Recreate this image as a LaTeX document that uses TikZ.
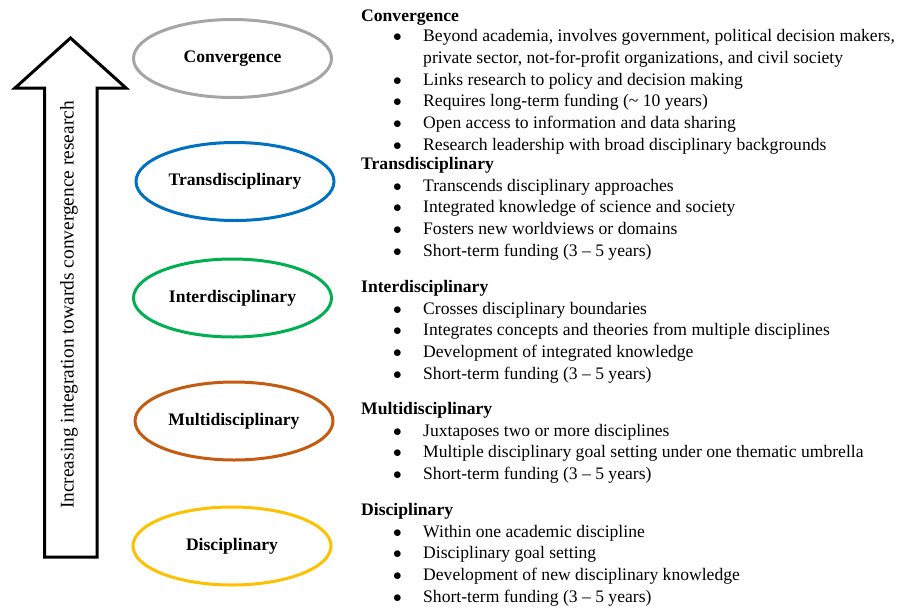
\documentclass[tikz,border=0pt]{standalone}
\usepackage{fontspec}
\setmainfont{Liberation Serif}
\usetikzlibrary{shapes.geometric}
\definecolor{cgray}{HTML}{A5A5A5}
\definecolor{cblue}{HTML}{0070C0}
\definecolor{cgreen}{HTML}{00B050}
\definecolor{corange}{HTML}{C55A11}
\definecolor{cgold}{HTML}{FFC000}
\newcommand{\bl}{$\bullet$ &}
\tikzset{
  level/.style={draw=#1, ellipse, line width=3pt, minimum width=198pt,
    minimum height=78pt, inner sep=0pt, font=\fontsize{17.6}{20}\selectfont\bfseries},
  block/.style={anchor=base west, inner sep=0pt, align=left,
    font=\fontsize{17.6}{21.7}\selectfont}
}
\begin{document}
\begin{tikzpicture}[x=1pt,y=-1pt]
\useasboundingbox (0,0) rectangle (911,606);
% arrow
\draw[line width=3pt, miter limit=10] (70.5,38) -- (126,88) -- (97,88) -- (97,557)
  -- (44.5,557) -- (44.5,88) -- (15,88) -- cycle;
\node[rotate=90, font=\fontsize{19.4}{22}\selectfont] (lbl) at (69,305)
  {Increasing integration towards convergence research};
% levels
\node[level=cgray]   (conv)  at (232.5,58.5) {Convergence};
\node[level=cblue]   (trans) at (235,181.5)  {Transdisciplinary};
\node[level=cgreen]  (inter) at (232.5,298)  {Interdisciplinary};
\node[level=corange] (multi) at (234,421)    {Multidisciplinary};
\node[level=cgold]   (disc)  at (232,546)    {Disciplinary};
% descriptions
\node[block] (tconv) at (361,21) {\begin{tabular}[t]{@{\hspace{32pt}}p{30pt}@{}l@{}}
\multicolumn{2}{@{}l@{}}{\textbf{Convergence}}\\[-1pt]
\bl Beyond academia, involves government, political decision makers,\\
 & private sector, not-for-profit organizations, and civil society\\
\bl Links research to policy and decision making\\
\bl Requires long-term funding (\textasciitilde\ 10 years)\\
\bl Open access to information and data sharing\\
\bl Research leadership with broad disciplinary backgrounds
\end{tabular}};
\node[block] (ttrans) at (361,169.5) {\begin{tabular}[t]{@{\hspace{32pt}}p{30pt}@{}l@{}}
\multicolumn{2}{@{}l@{}}{\textbf{Transdisciplinary}}\\
\bl Transcends disciplinary approaches\\
\bl Integrated knowledge of science and society\\
\bl Fosters new worldviews or domains\\
\bl Short-term funding (3 -- 5 years)
\end{tabular}};
\node[block] (tinter) at (361,292.5) {\begin{tabular}[t]{@{\hspace{32pt}}p{30pt}@{}l@{}}
\multicolumn{2}{@{}l@{}}{\textbf{Interdisciplinary}}\\
\bl Crosses disciplinary boundaries\\
\bl Integrates concepts and theories from multiple disciplines\\
\bl Development of integrated knowledge\\
\bl Short-term funding (3 -- 5 years)
\end{tabular}};
\node[block] (tmulti) at (361,414.5) {\begin{tabular}[t]{@{\hspace{32pt}}p{30pt}@{}l@{}}
\multicolumn{2}{@{}l@{}}{\textbf{Multidisciplinary}}\\
\bl Juxtaposes two or more disciplines\\
\bl Multiple disciplinary goal setting under one thematic umbrella\\
\bl Short-term funding (3 -- 5 years)
\end{tabular}};
\node[block] (tdisc) at (361,515.5) {\begin{tabular}[t]{@{\hspace{32pt}}p{30pt}@{}l@{}}
\multicolumn{2}{@{}l@{}}{\textbf{Disciplinary}}\\
\bl Within one academic discipline\\
\bl Disciplinary goal setting\\
\bl Development of new disciplinary knowledge\\
\bl Short-term funding (3 -- 5 years)
\end{tabular}};
\end{tikzpicture}
\end{document}
